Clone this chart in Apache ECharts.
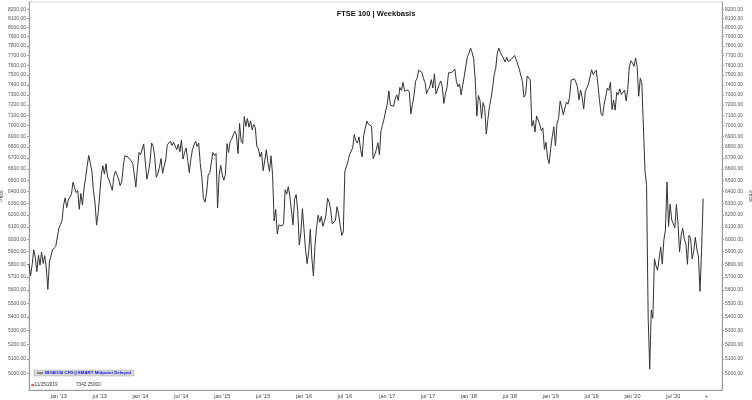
<!DOCTYPE html>
<html>
<head>
<meta charset="utf-8">
<script src="https://cdn.jsdelivr.net/npm/echarts@6/dist/echarts.min.js"></script>
<style>
html,body{margin:0;padding:0;background:#ffffff;}
#chart{width:752px;height:400px;}
</style>
</head>
<body>
<div id="chart"></div>
<script>
// ---- texts ----
const chartTitle = 'FTSE 100 | Weekbasis';
const seriesName = 'IBGB100 CFD@SMART Midpoint Delayed';
const axisName = 'Price';
const cursorDate = '11/25/2019';
const cursorValue = '7342.25000';

// ---- weekly closes (one value per Friday, first week = 2012-08-24) ----
const v2012 = [5800, 5711, 5795, 5915, 5853, 5742, 5871, 5793, 5896, 5806, 5868, 5769, 5605, 5819, 5867, 5914, 5921, 5940, 5925];
const v2013 = [6089, 6121, 6154, 6284, 6347, 6263, 6328, 6335, 6378, 6483, 6489, 6393, 6412, 6249, 6385, 6286, 6426, 6522, 6624, 6723, 6654, 6583, 6411, 6308, 6116, 6215, 6375, 6544, 6630, 6555, 6648, 6530, 6499, 6492, 6412, 6532, 6583, 6596, 6512, 6453, 6487, 6623, 6721, 6734, 6708, 6693, 6674, 6651, 6552, 6440, 6606, 6750];
const v2014 = [6731, 6740, 6829, 6664, 6510, 6572, 6663, 6838, 6810, 6712, 6527, 6557, 6616, 6695, 6561, 6625, 6685, 6822, 6814, 6855, 6815, 6844, 6858, 6777, 6826, 6757, 6866, 6690, 6749, 6791, 6679, 6567, 6689, 6776, 6819, 6855, 6806, 6837, 6649, 6527, 6340, 6310, 6388, 6546, 6567, 6654, 6750, 6723, 6742, 6260, 6545, 6633];
const v2015 = [6548, 6501, 6550, 6832, 6749, 6853, 6873, 6915, 6947, 6912, 6740, 7022, 6855, 6833, 7089, 6994, 7070, 6986, 7047, 6960, 7013, 6984, 6804, 6785, 6710, 6754, 6585, 6673, 6775, 6660, 6580, 6720, 6550, 6150, 6247, 6043, 6118, 6105, 6109, 6130, 6417, 6379, 6444, 6361, 6353, 6118, 6334, 6375, 6238, 5953, 6052, 6254];
const v2016 = [6242, 5912, 5804, 5900, 6083, 5848, 5707, 5950, 6097, 6199, 6140, 6190, 6106, 6146, 6204, 6344, 6310, 6242, 6126, 6138, 6156, 6271, 6209, 6116, 6030, 6060, 6578, 6590, 6669, 6730, 6724, 6793, 6916, 6859, 6838, 6895, 6777, 6710, 6910, 6899, 7044, 7014, 7020, 6996, 6693, 6730, 6775, 6840, 6730, 6954, 7011, 7068, 7143];
const v2017 = [7210, 7338, 7198, 7184, 7188, 7258, 7300, 7244, 7374, 7343, 7425, 7336, 7323, 7349, 7328, 7114, 7204, 7298, 7435, 7471, 7548, 7560, 7527, 7464, 7424, 7313, 7350, 7378, 7453, 7368, 7511, 7310, 7324, 7401, 7439, 7378, 7215, 7310, 7373, 7522, 7535, 7523, 7505, 7560, 7433, 7380, 7409, 7300, 7394, 7490, 7592, 7688];
const v2018 = [7724, 7778, 7730, 7666, 7443, 7092, 7294, 7244, 7070, 7224, 7164, 6922, 7057, 7184, 7264, 7368, 7502, 7567, 7725, 7779, 7730, 7701, 7681, 7633, 7682, 7637, 7617, 7661, 7678, 7701, 7659, 7667, 7559, 7577, 7432, 7277, 7304, 7490, 7510, 7450, 6996, 7050, 6940, 7094, 7105, 7014, 6953, 6980, 6778, 6845, 6700, 6650];
const v2019 = [6790, 6900, 6990, 6810, 7020, 7070, 7240, 7178, 7106, 7104, 7228, 7208, 7279, 7447, 7437, 7460, 7428, 7380, 7250, 7348, 7277, 7162, 7331, 7345, 7407, 7426, 7553, 7506, 7508, 7549, 7407, 7253, 7117, 7095, 7207, 7282, 7367, 7345, 7426, 7155, 7247, 7150, 7324, 7302, 7359, 7303, 7326, 7346, 7240, 7353, 7582, 7645];
const v2020 = [7622, 7588, 7675, 7586, 7286, 7466, 7409, 7404, 6581, 6462, 5400, 5030, 5450, 5390, 5843, 5787, 5752, 5763, 5936, 5800, 5993, 6076, 6484, 6105, 6292, 6159, 6157, 6095, 6290, 6124, 5898, 6032, 6090, 6001, 5964, 5799, 6032, 6007, 5842, 5902, 6016, 5920, 5860, 5590, 5910, 6340];

// ---- y tick labels (price levels) ----
const yTicks = [5000, 5100, 5200, 5300, 5400, 5500, 5600, 5700, 5800, 5900, 6000, 6100, 6200, 6300, 6400, 6500, 6600, 6700, 6800, 6900, 7000, 7100, 7200, 7300, 7400, 7500, 7600, 7700, 7800, 7900, 8000, 8100, 8200];
const yMin = 4889;
const yMax = 8281;
const monthNames = ['jan', 'feb', 'mar', 'apr', 'may', 'jun', 'jul', 'aug', 'sep', 'oct', 'nov', 'dec'];
const firstWeekUTC = Date.UTC(2012, 7, 24);
const emptyWeeksAfter = 12;

// ---- build ----
const values = [].concat(v2012, v2013, v2014, v2015, v2016, v2017, v2018, v2019, v2020);
const categories = [];
for (let i = 0; i < values.length + emptyWeeksAfter; i++) {
  categories.push(new Date(firstWeekUTC + i * 7 * 86400000).toISOString().slice(0, 10));
}
const plusIndex = values.length + 1;
function isHalfYearStart(i) {
  if (i <= 0) return false;
  const m = +categories[i].slice(5, 7);
  const pm = +categories[i - 1].slice(5, 7);
  return m !== pm && (m === 1 || m === 7);
}

const FONT = '"Liberation Sans", Arial, sans-serif';
const logTicks = yTicks.map(Math.log);

function labelAxis(pos) {
  return {
    type: 'value',
    position: pos,
    min: Math.log(yMin),
    max: Math.log(yMax),
    name: axisName,
    nameLocation: 'middle',
    nameGap: pos === 'left' ? 25 : 26,
    nameRotate: pos === 'left' ? 90 : -90,
    nameMoveOverlap: false,
    nameTextStyle: { fontSize: 5, color: '#444', fontFamily: FONT },
    axisLine: { show: true, lineStyle: { color: '#9a9a9a', width: 1 } },
    axisTick: { show: true, length: 2, customValues: logTicks, lineStyle: { color: '#9a9a9a' } },
    axisLabel: {
      show: true,
      customValues: logTicks,
      margin: 3,
      fontSize: 5,
      color: '#555',
      fontFamily: FONT,
      formatter: function (v) { return Math.exp(v).toFixed(2); }
    },
    splitLine: { show: false }
  };
}

const chart = echarts.init(document.getElementById('chart'), null, { renderer: 'canvas' });
chart.setOption({
  animation: false,
  backgroundColor: '#ffffff',
  title: {
    text: chartTitle,
    left: 'center',
    top: 10,
    padding: 0,
    textStyle: { fontSize: 7.5, fontWeight: 'bold', color: '#111', fontFamily: FONT }
  },
  legend: {
    left: 34,
    top: 370,
    padding: [1, 3, 1, 3],
    icon: 'rect',
    itemWidth: 6,
    itemHeight: 1,
    backgroundColor: '#d6d6d6',
    borderColor: '#b0b0b0',
    borderWidth: 0.5,
    textStyle: { fontSize: 4.4, fontWeight: 'bold', color: '#1515e0', fontFamily: FONT, padding: [0, 0, 0, -3] },
    data: [seriesName]
  },
  grid: {
    left: 29, right: 30, top: 2, bottom: 10,
    show: true, borderColor: '#dadada', borderWidth: 1,
    outerBoundsMode: 'none'
  },
  xAxis: {
    type: 'category',
    data: categories,
    boundaryGap: false,
    axisLine: { show: true, lineStyle: { color: '#9a9a9a', width: 1 } },
    axisTick: { show: false },
    splitLine: { show: false },
    axisLabel: {
      interval: function (i) { return isHalfYearStart(i) || i === plusIndex; },
      margin: 3,
      fontSize: 5.5,
      color: '#444',
      fontFamily: FONT,
      formatter: function (value, index) {
        if (index === plusIndex) return '+';
        const m = +value.slice(5, 7);
        return monthNames[m - 1] + " '" + value.slice(2, 4);
      }
    }
  },
  yAxis: [
    {
      type: 'log',
      logBase: 10,
      min: yMin,
      max: yMax,
      show: false,
      splitLine: { show: false }
    },
    labelAxis('left'),
    labelAxis('right')
  ],
  graphic: [
    { type: 'text', left: 31, top: 382, style: { text: '×', fontSize: 5.5, fontWeight: 'bold', fill: '#b00000', fontFamily: FONT } },
    { type: 'text', left: 34.5, top: 382.5, style: { text: cursorDate, fontSize: 4.7, fill: '#333', fontFamily: FONT } },
    { type: 'text', left: 76, top: 382.5, style: { text: cursorValue, fontSize: 4.7, fill: '#333', fontFamily: FONT } }
  ],
  series: [{
    name: seriesName,
    type: 'line',
    yAxisIndex: 0,
    data: values,
    symbol: 'none',
    showSymbol: false,
    lineStyle: { color: '#333333', width: 1 },
    itemStyle: { color: '#333333' },
    z: 5
  }]
});
</script>
</body>
</html>
